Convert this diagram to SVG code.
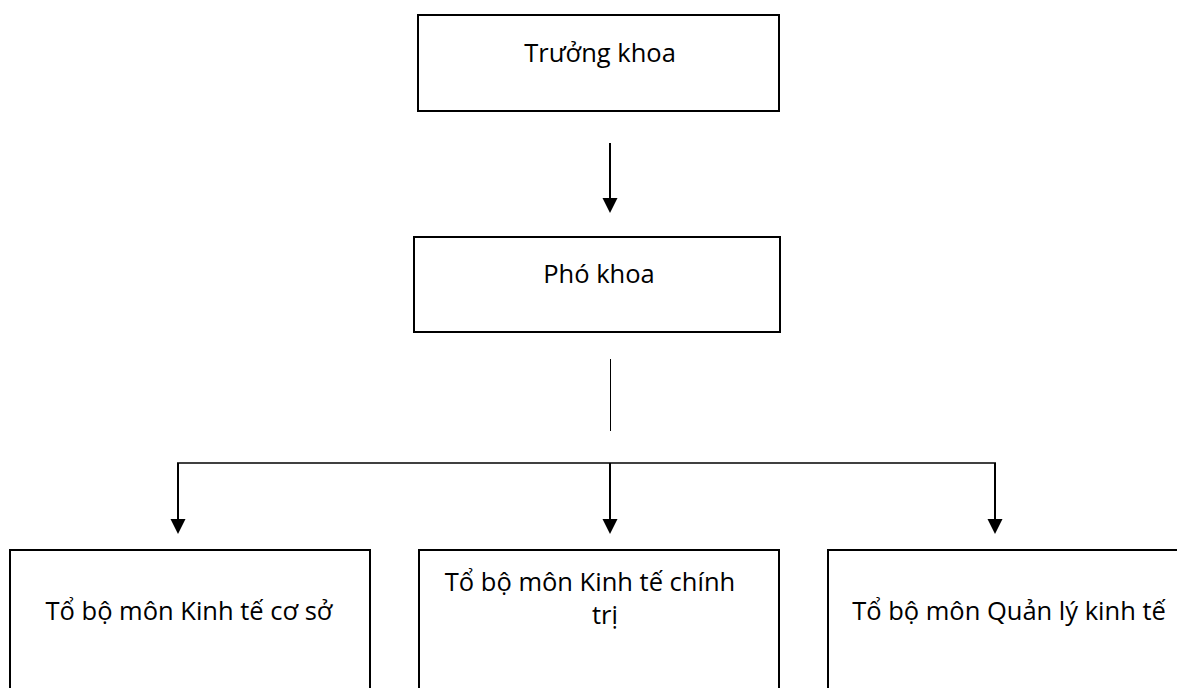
<svg xmlns="http://www.w3.org/2000/svg" width="1177" height="688" viewBox="0 0 1177 688">
<style>
.box{fill:#fff;stroke:#000;stroke-width:2}
.lbl{font-family:"Open Sans","Noto Sans","DejaVu Sans",sans-serif;font-size:25.5px;fill:#000;text-anchor:middle}
.arr{stroke:#000;stroke-width:2;fill:none}
.thin{stroke:#000;stroke-width:1.3;fill:none}
.head{fill:#000}
</style>
<rect width="1177" height="688" fill="#fff"/>
<g id="truong-khoa">
<rect class="box" x="418" y="15" width="361" height="96"/>
<text class="lbl" x="600" y="62">Trưởng khoa</text>
</g>
<g id="pho-khoa">
<rect class="box" x="414" y="237" width="366" height="95"/>
<text class="lbl" x="599" y="283">Phó khoa</text>
</g>
<g id="kinh-te-co-so">
<rect class="box" x="10" y="550" width="360" height="150"/>
<text class="lbl" x="189" y="620">Tổ bộ môn Kinh tế cơ sở</text>
</g>
<g id="kinh-te-chinh-tri">
<rect class="box" x="419" y="550" width="360" height="150"/>
<text class="lbl" x="590" y="591">Tổ bộ môn Kinh tế chính</text>
<text class="lbl" x="605" y="624">trị</text>
</g>
<g id="quan-ly-kinh-te">
<rect class="box" x="828" y="550" width="360" height="150"/>
<text class="lbl" x="1009" y="620">Tổ bộ môn Quản lý kinh tế</text>
</g>
<g id="connectors">
<line class="arr" x1="610" y1="143" x2="610" y2="198"/>
<polygon class="head" points="602.5,198 617.5,198 610,213"/>
<line stroke="#000" stroke-width="1" x1="610.5" y1="359" x2="610.5" y2="431"/>
<line class="thin" x1="177" y1="463" x2="996" y2="463"/>
<line class="arr" x1="178" y1="463" x2="178" y2="519"/>
<polygon class="head" points="170.5,519 185.5,519 178,534"/>
<line class="arr" x1="610" y1="463" x2="610" y2="519"/>
<polygon class="head" points="602.5,519 617.5,519 610,534"/>
<line class="arr" x1="995" y1="463" x2="995" y2="519"/>
<polygon class="head" points="987.5,519 1002.5,519 995,534"/>
</g>
</svg>
